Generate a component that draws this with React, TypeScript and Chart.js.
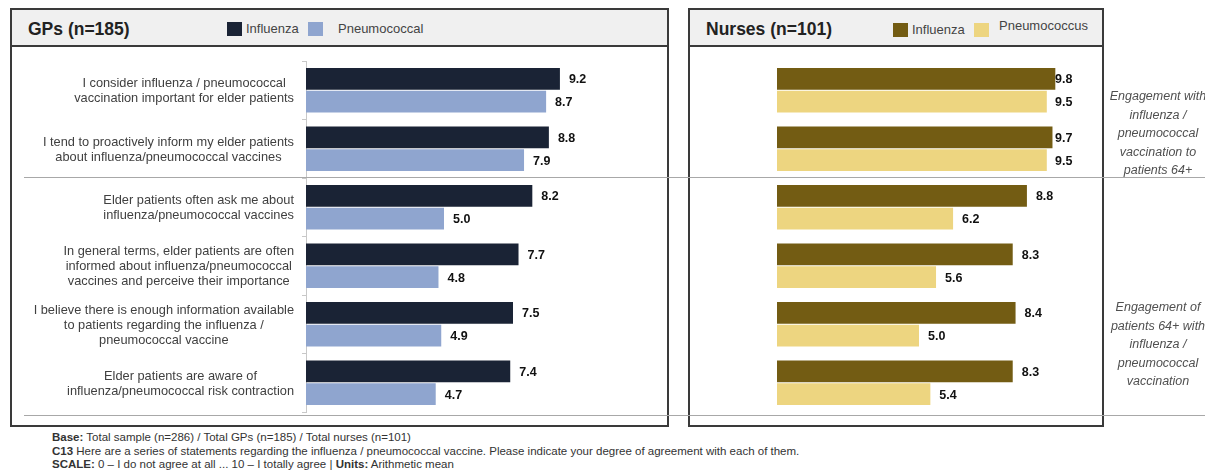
import React, { useEffect, useRef } from "react";
import { Chart, registerables } from "chart.js";

Chart.register(...registerables);

const statements: string[][] = [
  ["I consider influenza / pneumococcal", "vaccination important for elder patients"],
  ["I tend to proactively inform my elder patients", "about influenza/pneumococcal vaccines"],
  ["Elder patients often ask me about", "influenza/pneumococcal vaccines"],
  ["In general terms, elder patients are often", "informed about influenza/pneumococcal", "vaccines and perceive their importance"],
  ["I believe there is enough information available", "to patients regarding the influenza /", "pneumococcal vaccine"],
  ["Elder patients are aware of", "influenza/pneumococcal risk contraction"],
];

const gpInfluenza = [9.2, 8.8, 8.2, 7.7, 7.5, 7.4];
const gpPneumococcal = [8.7, 7.9, 5.0, 4.8, 4.9, 4.7];
const nurseInfluenza = [9.8, 9.7, 8.8, 8.3, 8.4, 8.3];
const nursePneumococcus = [9.5, 9.5, 6.2, 5.6, 5.0, 5.4];

const gpTitle = "GPs (n=185)";
const nurseTitle = "Nurses (n=101)";
const gpSeries = ["Influenza", "Pneumococcal"];
const nurseSeries = ["Influenza", "Pneumococcus"];
const gpColors = ["#1a2335", "#8fa5cf"];
const nurseColors = ["#735c13", "#edd580"];

const sideNote1 = ["Engagement with", "influenza /", "pneumococcal", "vaccination to", "patients 64+"];
const sideNote2 = ["Engagement of", "patients 64+ with", "influenza /", "pneumococcal", "vaccination"];

const FONT = "'Liberation Sans', Arial, Helvetica, sans-serif";

const valueLabelPlugin = {
  id: "valueLabels",
  afterDatasetsDraw(chart: any) {
    const ctx = chart.ctx;
    const area = chart.chartArea;
    ctx.save();
    ctx.font = `bold 12.5px ${FONT}`;
    ctx.fillStyle = "#111111";
    ctx.textAlign = "left";
    ctx.textBaseline = "middle";
    chart.data.datasets.forEach((ds: any, di: number) => {
      const meta = chart.getDatasetMeta(di);
      meta.data.forEach((el: any, i: number) => {
        const v = ds.data[i];
        const x = Math.min(el.x + 9, area.right - 6);
        ctx.fillText(v.toFixed(1), x, el.y + 1);
      });
    });
    ctx.restore();
  },
};

const categoryLabelPlugin = {
  id: "categoryLabels",
  afterDraw(chart: any, _args: any, opts: any) {
    if (!opts || !opts.show) return;
    const ctx = chart.ctx;
    const yScale = chart.scales.y;
    const right = chart.chartArea.left - 12;
    ctx.save();
    ctx.font = `12.8px ${FONT}`;
    ctx.fillStyle = "#404040";
    ctx.textAlign = "center";
    ctx.textBaseline = "middle";
    (chart.data.labels as string[][]).forEach((lines, i) => {
      const w = Math.max(...lines.map((l) => ctx.measureText(l).width));
      const cx = right - w / 2;
      const cy = yScale.getPixelForValue(i);
      const n = lines.length;
      lines.forEach((line, j) => {
        ctx.fillText(line, cx, cy + (j - (n - 1) / 2) * 15 + 1);
      });
    });
    ctx.restore();
  },
};

function BarPanel(props: {
  a: number[];
  b: number[];
  colors: string[];
  names: string[];
  width: number;
  height: number;
  padding: { left: number; right: number; top: number; bottom: number };
  showAxis: boolean;
}) {
  const ref = useRef<HTMLCanvasElement | null>(null);
  useEffect(() => {
    if (!ref.current) return;
    const chart = new Chart(ref.current, {
      type: "bar",
      data: {
        labels: statements as any,
        datasets: [
          {
            label: props.names[0],
            data: props.a,
            backgroundColor: props.colors[0],
            categoryPercentage: 0.78,
            barPercentage: 0.96,
          },
          {
            label: props.names[1],
            data: props.b,
            backgroundColor: props.colors[1],
            categoryPercentage: 0.78,
            barPercentage: 0.96,
          },
        ],
      },
      options: {
        indexAxis: "y",
        responsive: false,
        maintainAspectRatio: false,
        animation: false,
        layout: { padding: props.padding },
        scales: {
          x: { display: false, min: 0, max: 10 },
          y: {
            display: props.showAxis,
            ticks: { display: false },
            grid: { drawOnChartArea: false, offset: true, tickLength: 4, color: "#c8c8c8" },
            border: { color: "#c8c8c8" },
          },
        },
        plugins: {
          legend: { display: false },
          tooltip: { enabled: false },
          categoryLabels: { show: props.showAxis },
        } as any,
      },
      plugins: [valueLabelPlugin, categoryLabelPlugin],
    });
    return () => chart.destroy();
  }, []);
  return <canvas ref={ref} width={props.width} height={props.height} style={{ display: "block" }} />;
}

function Legend(props: { names: string[]; colors: string[]; xs: number[]; squareX: number[]; top: number; textTop: number[] }) {
  return (
    <>
      {props.names.map((n, i) => (
        <React.Fragment key={n}>
          <div
            style={{
              position: "absolute",
              left: props.squareX[i],
              top: props.top,
              width: 15,
              height: 14,
              background: props.colors[i],
            }}
          />
          <div
            style={{
              position: "absolute",
              left: props.xs[i],
              top: props.textTop[i],
              fontFamily: FONT,
              fontSize: 13,
              color: "#444",
              lineHeight: "16px",
              whiteSpace: "nowrap",
            }}
          >
            {n}
          </div>
        </React.Fragment>
      ))}
    </>
  );
}

const boxBorder = "2px solid #3a3a3a";

export default function App() {
  return (
    <div
      style={{
        position: "fixed",
        left: 0,
        top: 0,
        width: 1205,
        height: 470,
        overflow: "hidden",
        background: "#ffffff",
        fontFamily: FONT,
      }}
    >
      {/* Left box */}
      <div
        style={{
          position: "absolute",
          left: 10,
          top: 8,
          width: 659,
          height: 419,
          border: boxBorder,
          boxSizing: "border-box",
        }}
      />
      <div
        style={{
          position: "absolute",
          left: 12,
          top: 10,
          width: 655,
          height: 35,
          background: "#f0f0f0",
          borderBottom: boxBorder,
        }}
      />
      <div
        style={{
          position: "absolute",
          left: 28,
          top: 18,
          fontSize: 17.5,
          fontWeight: "bold",
          color: "#222",
          lineHeight: "22px",
          whiteSpace: "nowrap",
        }}
      >
        {gpTitle}
      </div>
      <Legend names={gpSeries} colors={gpColors} squareX={[227, 308]} xs={[246, 338]} top={22} textTop={[21, 21]} />

      {/* Right box */}
      <div
        style={{
          position: "absolute",
          left: 688,
          top: 8,
          width: 416,
          height: 419,
          border: boxBorder,
          boxSizing: "border-box",
        }}
      />
      <div
        style={{
          position: "absolute",
          left: 690,
          top: 10,
          width: 412,
          height: 35,
          background: "#f0f0f0",
          borderBottom: boxBorder,
        }}
      />
      <div
        style={{
          position: "absolute",
          left: 706,
          top: 18,
          fontSize: 17.5,
          fontWeight: "bold",
          color: "#222",
          lineHeight: "22px",
          whiteSpace: "nowrap",
        }}
      >
        {nurseTitle}
      </div>
      <Legend names={nurseSeries} colors={nurseColors} squareX={[893, 974]} xs={[912, 999]} top={23} textTop={[22, 18]} />

      {/* Charts */}
      <div style={{ position: "absolute", left: 12, top: 48 }}>
        <BarPanel
          a={gpInfluenza}
          b={gpPneumococcal}
          colors={gpColors}
          names={gpSeries}
          width={650}
          height={376}
          padding={{ left: 290, right: 80, top: 13, bottom: 12 }}
          showAxis={true}
        />
      </div>
      <div style={{ position: "absolute", left: 690, top: 48 }}>
        <BarPanel
          a={nurseInfluenza}
          b={nursePneumococcus}
          colors={nurseColors}
          names={nurseSeries}
          width={410}
          height={376}
          padding={{ left: 87, right: 39, top: 13, bottom: 12 }}
          showAxis={false}
        />
      </div>

      {/* Separator lines */}
      <div style={{ position: "absolute", left: 24, top: 177, width: 1181, height: 1, background: "#a8a8a8" }} />
      <div style={{ position: "absolute", left: 24, top: 415, width: 1181, height: 1, background: "#a8a8a8" }} />

      {/* Side notes */}
      {[sideNote1, sideNote2].map((note, k) => (
        <div
          key={k}
          style={{
            position: "absolute",
            left: 1098,
            top: k === 0 ? 87 : 298,
            width: 120,
            textAlign: "center",
            fontStyle: "italic",
            fontSize: 12.5,
            lineHeight: "18.6px",
            color: "#505050",
          }}
        >
          {note.map((l) => (
            <div key={l} style={{ whiteSpace: "nowrap" }}>
              {l}
            </div>
          ))}
        </div>
      ))}

      {/* Footer */}
      <div
        style={{
          position: "absolute",
          left: 52,
          top: 431,
          fontSize: 11.5,
          lineHeight: "13.5px",
          color: "#333",
          whiteSpace: "nowrap",
        }}
      >
        <div>
          <b>Base:</b> Total sample (n=286) / Total GPs (n=185) / Total nurses (n=101)
        </div>
        <div>
          <b>C13</b> Here are a series of statements regarding the influenza / pneumococcal vaccine. Please indicate your degree of agreement with each of them.
        </div>
        <div>
          <b>SCALE:</b> 0 – I do not agree at all ... 10 – I totally agree | <b>Units:</b> Arithmetic mean
        </div>
      </div>
    </div>
  );
}
